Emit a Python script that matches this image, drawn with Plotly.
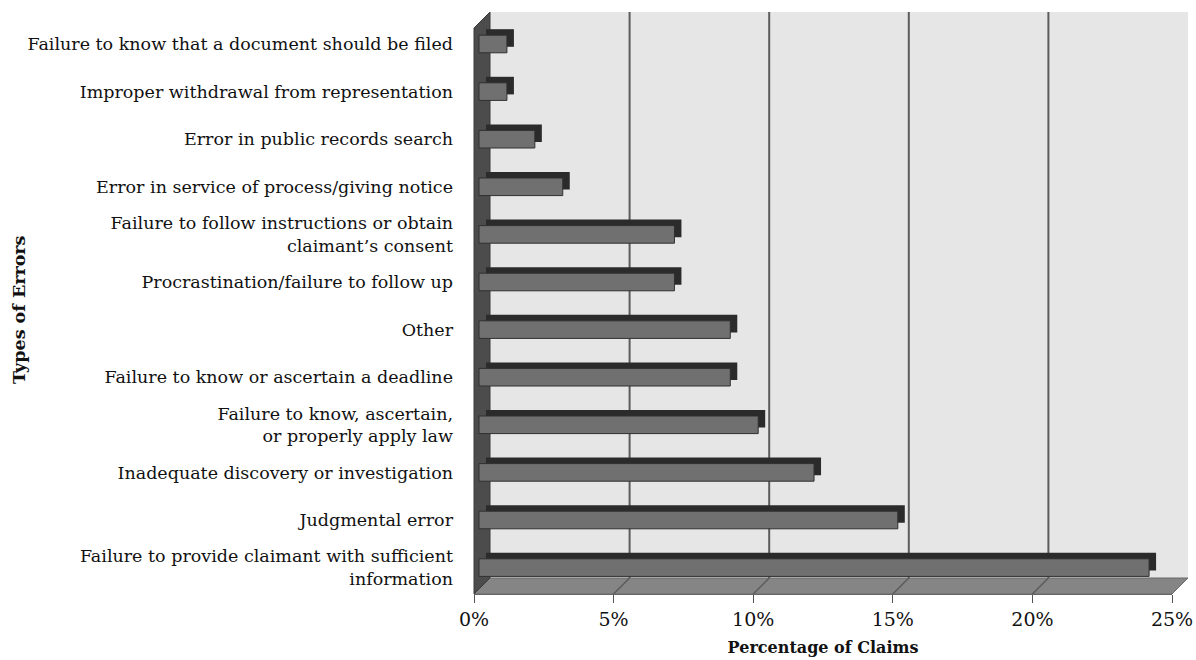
import plotly.graph_objects as go

# ---------------- data ----------------
categories = [
    "Failure to know that a document should be filed",
    "Improper withdrawal from representation",
    "Error in public records search",
    "Error in service of process/giving notice",
    "Failure to follow instructions or obtain<br>claimant\u2019s consent",
    "Procrastination/failure to follow up",
    "Other",
    "Failure to know or ascertain a deadline",
    "Failure to know, ascertain,<br>or properly apply law",
    "Inadequate discovery or investigation",
    "Judgmental error",
    "Failure to provide claimant with sufficient<br>information",
]
percentages = [1, 1, 2, 3, 7, 7, 9, 9, 10, 12, 15, 24]
x_ticks = [0, 5, 10, 15, 20, 25]
x_tick_labels = ["0%", "5%", "10%", "15%", "20%", "25%"]

# ---------------- geometry (pixels) ----------------
FIG_W, FIG_H = 1196, 660
L, R, T, B = 474, 1172, 28, 594
W, H = R - L, B - T
XMAX = 25
PX_PER_UNIT = W / XMAX
DEPTH = 16          # wall depth in px
BAR_SHIFT = 5       # bars sit slightly behind front plane
BAR_DX, BAR_DY = 7, 6   # 3D extrusion of bars
CAT_SPACING = 47.6
BAR_W = 0.37

def px_x(px):
    return (px - L) / W

def px_y(py):
    return (B - py) / H

y_top = -0.336
y_bottom = y_top + H / CAT_SPACING

FONT = "DejaVu Serif"

fig = go.Figure()

# shadow (extrusion) bars - drawn first (lower overlay)
fig.add_trace(go.Bar(
    y=categories, x=percentages, orientation="h",
    xaxis="x2", yaxis="y",
    width=BAR_W, offset=-BAR_W / 2 - BAR_DY / CAT_SPACING,
    marker=dict(color="#2b2b2b", line=dict(width=0)),
    hoverinfo="skip", showlegend=False,
))
# front faces - on top
fig.add_trace(go.Bar(
    y=categories, x=percentages, orientation="h",
    xaxis="x3", yaxis="y",
    width=BAR_W, offset=-BAR_W / 2,
    marker=dict(color="#707070", line=dict(color="#303030", width=1)),
    showlegend=False,
))

shapes = []
# back wall
shapes.append(dict(type="rect", xref="paper", yref="paper",
                   x0=px_x(L + DEPTH), x1=px_x(R + DEPTH),
                   y0=px_y(B - DEPTH), y1=px_y(T - DEPTH),
                   fillcolor="#e6e6e6", line=dict(width=0), layer="below"))
# floor
shapes.append(dict(type="path", xref="paper", yref="paper",
                   path=f"M {px_x(L)} {px_y(B)} L {px_x(R)} {px_y(B)} "
                        f"L {px_x(R + DEPTH)} {px_y(B - DEPTH)} L {px_x(L + DEPTH)} {px_y(B - DEPTH)} Z",
                   fillcolor="#858585", line=dict(color="#6a6a6a", width=1), layer="below"))
# back-wall gridlines and floor diagonals
for v in x_ticks[1:]:
    shapes.append(dict(type="line", xref="x", yref="paper", xsizemode="pixel", xanchor=v,
                       x0=DEPTH, x1=DEPTH, y0=px_y(B - DEPTH), y1=px_y(T - DEPTH),
                       line=dict(color="#5c5c5c", width=2), layer="below"))
    shapes.append(dict(type="line", xref="x", yref="paper", xsizemode="pixel", xanchor=v,
                       x0=0, x1=DEPTH, y0=px_y(B), y1=px_y(B - DEPTH),
                       line=dict(color="#5c5c5c", width=1.5), layer="below"))
# left side wall
shapes.append(dict(type="path", xref="paper", yref="paper",
                   path=f"M {px_x(L)} {px_y(B)} L {px_x(L)} {px_y(T)} "
                        f"L {px_x(L + DEPTH)} {px_y(T - DEPTH)} L {px_x(L + DEPTH)} {px_y(B - DEPTH)} Z",
                   fillcolor="#4c4c4c", line=dict(color="#3a3a3a", width=1), layer="below"))

fig.update_layout(
    width=FIG_W, height=FIG_H,
    margin=dict(l=L, r=FIG_W - R, t=T, b=FIG_H - B, pad=0, autoexpand=False),
    paper_bgcolor="white", plot_bgcolor="rgba(0,0,0,0)",
    barmode="overlay",
    font=dict(family=FONT, size=17.5, color="#111"),
    shapes=shapes,
    xaxis=dict(range=[0, XMAX], tickvals=x_ticks, ticktext=x_tick_labels,
               ticks="outside", ticklen=8, tickcolor="#555", tickwidth=1,
               showgrid=False, zeroline=False, showline=True, linecolor="#666", linewidth=1,
               automargin=False,
               tickfont=dict(family=FONT, size=19, color="#111"),
               title=dict(text="<b>Percentage of Claims</b>", standoff=13,
                          font=dict(family=FONT, size=16, color="#111"))),
    xaxis2=dict(range=[-(BAR_SHIFT + BAR_DX) / PX_PER_UNIT, XMAX - (BAR_SHIFT + BAR_DX) / PX_PER_UNIT],
                overlaying="x", visible=False),
    xaxis3=dict(range=[-BAR_SHIFT / PX_PER_UNIT, XMAX - BAR_SHIFT / PX_PER_UNIT],
                overlaying="x", visible=False),
    yaxis=dict(type="category", categoryorder="array", categoryarray=categories,
               range=[y_bottom, y_top], showgrid=False, zeroline=False, showline=False,
               ticks="", ticklabelstandoff=20, automargin=False,
               tickfont=dict(family=FONT, size=17.5, color="#111")),
    annotations=[dict(text="<b>Types of Errors</b>", xref="paper", yref="paper",
                      x=px_x(19), y=px_y(310), xanchor="center", yanchor="middle",
                      textangle=-90, showarrow=False,
                      font=dict(family=FONT, size=17.5, color="#111"))],
)

fig.write_html("out.html")
